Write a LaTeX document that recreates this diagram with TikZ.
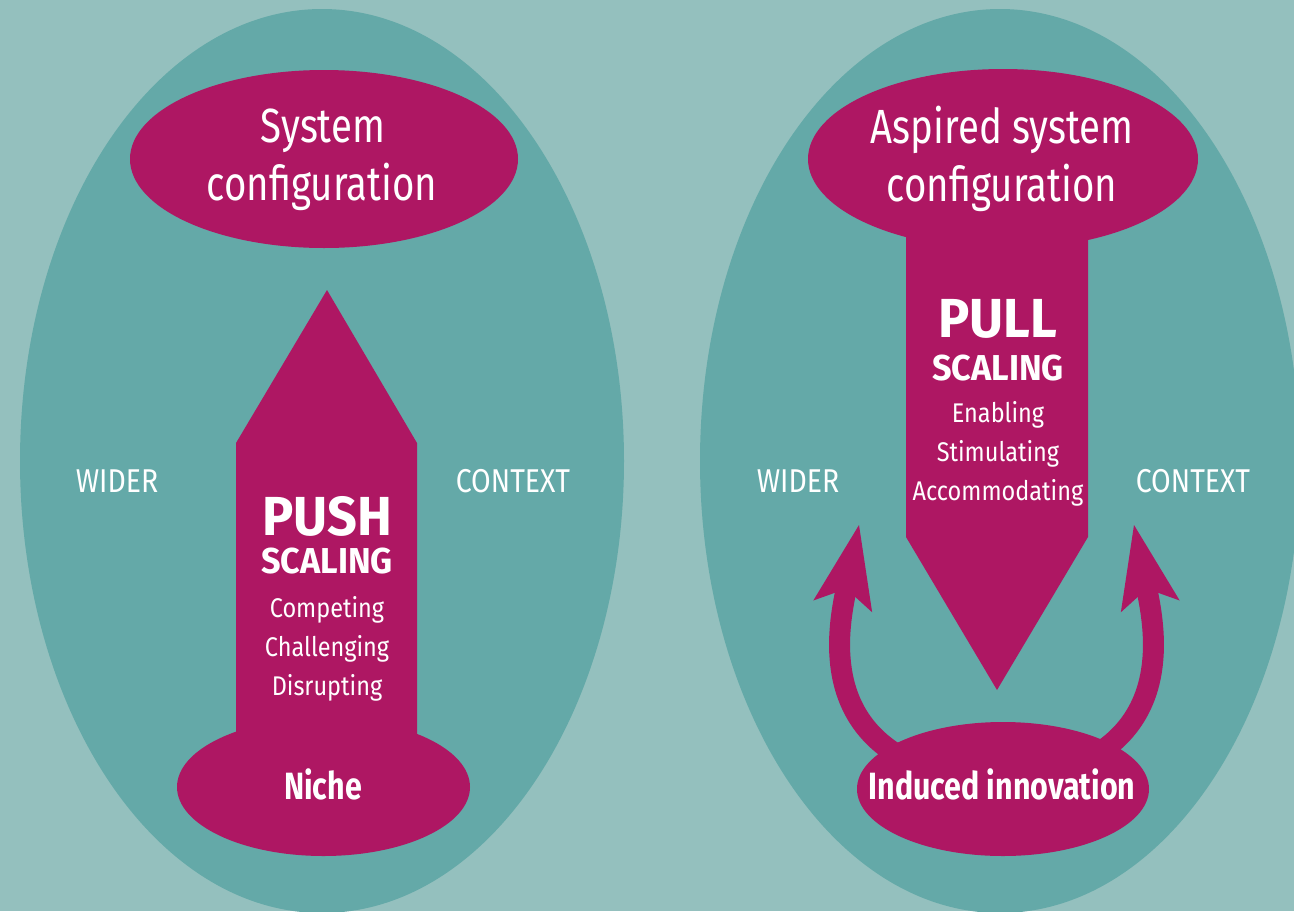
\documentclass[tikz,border=0pt]{standalone}
\usepackage{fontspec}
\setmainfont{Fira Sans}[FakeStretch=0.8]
\newfontfamily\widebold{Fira Sans}[FakeStretch=0.95]
\newfontfamily\listfont{Fira Sans}[FakeStretch=0.87]
\newfontfamily\ctxfont{Fira Sans}[FakeStretch=0.86]
\usetikzlibrary{shapes.geometric,arrows.meta}
\definecolor{bgc}{HTML}{94C0BE}
\definecolor{tealc}{HTML}{64A9A8}
\definecolor{magc}{HTML}{AE1763}
\begin{document}
\begin{tikzpicture}[x=1pt,y=-1pt,
  ctx/.style={ellipse, fill=tealc, inner sep=0pt, draw=none},
  blob/.style={ellipse, fill=magc, inner sep=0pt, draw=none},
  txt/.style={text=white, inner sep=0pt, anchor=base},
  ttl/.style={txt, font=\fontsize{48}{48}\selectfont},
  bigw/.style={txt, font=\widebold\bfseries\fontsize{55}{55}\selectfont},
  scw/.style={txt, font=\widebold\bfseries\fontsize{36}{36}\selectfont},
  lst/.style={txt, font=\listfont\fontsize{27}{27}\selectfont},
  ctxw/.style={txt, font=\ctxfont\fontsize{33}{33}\selectfont},
  lbl/.style={txt, font=\bfseries\fontsize{38}{38}\selectfont},
  curved/.style={draw=magc, line width=21pt,
    -{Stealth[length=83pt,width=60pt,inset=18pt,line width=0pt]}}]
\fill[bgc] (0,0) rectangle (1294,911);
\useasboundingbox (0,0) rectangle (1294,911);
% wider context ellipses
\node[ctx, minimum width=604pt, minimum height=904pt] (leftctx) at (322,461) {};
\node[ctx, minimum width=600pt, minimum height=904pt] (rightctx) at (1000,461) {};
% left: push scaling
\node[blob, minimum width=388pt, minimum height=178pt] (sysconf) at (324,159) {};
\fill[magc] (236,760) -- (236,443) -- (327,290) -- (417,443) -- (417,760) -- cycle;
\node[blob, minimum width=293pt, minimum height=138pt] (niche) at (323.5,787) {};
% right: pull scaling
\fill[magc] (906,230) -- (1088,230) -- (1088,537) -- (997,690) -- (906,537) -- cycle;
\node[blob, minimum width=390pt, minimum height=180pt] (aspconf) at (1003,159) {};
\coordinate (lstart) at (893,752);
\coordinate (ltip) at (859,525);
\coordinate (rstart) at (1100,752);
\coordinate (rtip) at (1134,525);
\draw[curved] (lstart) .. controls (822,705) and (840,620) .. (ltip);
\draw[curved] (rstart) .. controls (1171,705) and (1153,620) .. (rtip);
\node[blob, minimum width=292pt, minimum height=134pt] (induced) at (1003,789) {};
% texts
\node[ttl] (t1) at (323,142) {System};
\node[ttl] (t2) at (322,200) {configuration};
\node[ttl] (t3) at (1002,143) {Aspired system};
\node[ttl] (t4) at (1002,201) {configuration};
\node[bigw] (push) at (327,535) {PUSH};
\node[scw] (ps) at (327,573) {SCALING};
\node[lst] (p1) at (327,617) {Competing};
\node[lst] (p2) at (327,656) {Challenging};
\node[lst] (p3) at (327,695) {Disrupting};
\node[bigw] (pull) at (998,337) {PULL};
\node[scw] (pls) at (998,380) {SCALING};
\node[lst] (q1) at (998,422) {Enabling};
\node[lst] (q2) at (998,461) {Stimulating};
\node[lst] (q3) at (998,500) {Accommodating};
\node[ctxw] (w1) at (117,492) {WIDER};
\node[ctxw] (c1) at (513,492) {CONTEXT};
\node[ctxw] (w2) at (798,492) {WIDER};
\node[ctxw] (c2) at (1193,492) {CONTEXT};
\node[lbl] (nt) at (323,799) {Niche};
\node[lbl] (it) at (1002,799) {Induced innovation};
\end{tikzpicture}
\end{document}
